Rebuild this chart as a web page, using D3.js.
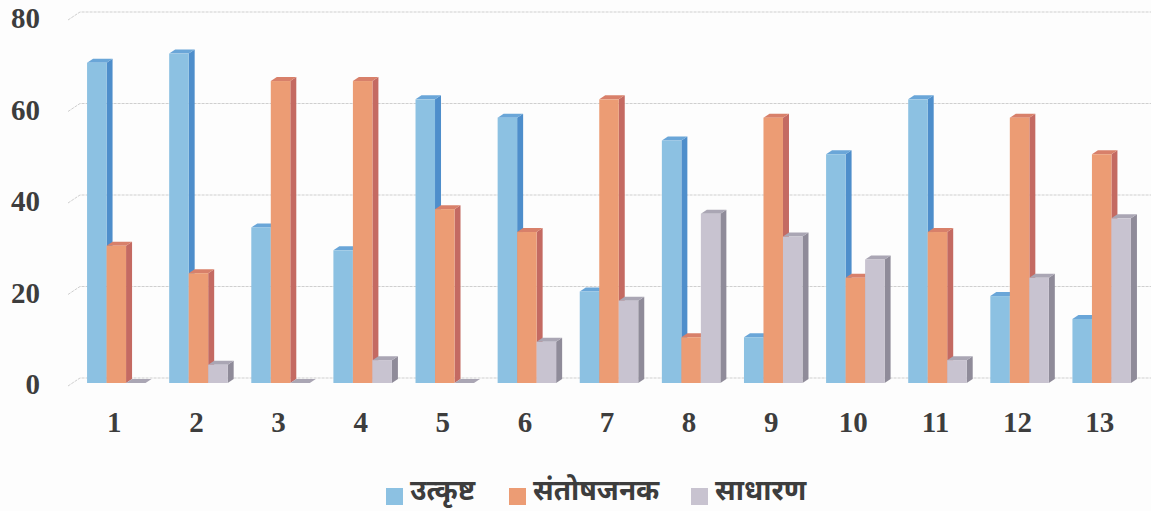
<!DOCTYPE html>
<html>
<head>
<meta charset="utf-8">
<script src="https://cdn.jsdelivr.net/npm/d3@7"></script>
<style>
  body { margin: 0; background: #fdfdfd; }
  svg { display: block; }
</style>
</head>
<body>
<script>
const w = 1151;
const h = 511;

// data
const categories = ["1","2","3","4","5","6","7","8","9","10","11","12","13"];
const seriesNames = ["उत्कृष्ट", "संतोषजनक", "साधारण"];
const utkrusht = [70, 72, 34, 29, 62, 58, 20, 53, 10, 50, 62, 19, 14];
const santoshjanak = [30, 24, 66, 66, 38, 33, 62, 10, 58, 23, 33, 58, 50];
const sadharan = [0, 4, 0, 5, 0, 9, 18, 37, 32, 27, 5, 23, 36];
const yTicks = [0, 20, 40, 60, 80];

const seriesValues = [utkrusht, santoshjanak, sadharan];
// front, side, top colours for each series
const colors = [
  {front: "#8cc1e2", side: "#4e8ecb", top: "#6aa6d8"},
  {front: "#ec9c74", side: "#c46a62", top: "#d8806a"},
  {front: "#c8c3d0", side: "#8f8b99", top: "#aaa6b4"}
];

const dx = 6, dy = 4;

const svg = d3.select("body")
  .append("svg")
  .attr("width", w)
  .attr("height", h);

const yScale = d3.scaleLinear()
  .domain([0, 80])
  .range([383, 17]);

const xScale = d3.scaleBand()
  .domain(categories)
  .range([46, 1172])
  .paddingInner(0.2875)
  .paddingOuter(0.5);

const xSub = d3.scaleBand()
  .domain([0, 1, 2])
  .range([0, xScale.bandwidth()]);

// back wall grid lines
yTicks.forEach(function(t) {
  const gy = yScale(t) - 5;
  svg.append("path")
    .attr("d", "M68," + (gy + 8) + " L80," + gy + " L" + w + "," + gy)
    .attr("fill", "none")
    .attr("stroke", "#cfcfcf")
    .attr("stroke-width", 1)
    .attr("stroke-dasharray", "3,1");
});

// y labels
svg.append("g")
  .selectAll("text")
  .data(yTicks)
  .enter()
  .append("text")
  .attr("x", 40)
  .attr("y", (d) => yScale(d) + 11)
  .attr("text-anchor", "end")
  .style("font-family", "'Liberation Serif', 'Times New Roman', serif")
  .style("font-weight", "bold")
  .style("font-size", "29px")
  .style("fill", "#3d3d3d")
  .text((d) => d);

// 3d bars
categories.forEach(function(c, i) {
  const g = svg.append("g");
  seriesValues.forEach(function(vals, s) {
    const x = xScale(c) + xSub(s);
    const bw = xSub.bandwidth();
    const y0 = yScale(0);
    const y1 = yScale(vals[i]);
    const col = colors[s];
    // side
    g.append("path")
      .attr("d", "M" + (x + bw) + "," + y0 + " L" + (x + bw + dx) + "," + (y0 - dy) +
        " L" + (x + bw + dx) + "," + (y1 - dy) + " L" + (x + bw) + "," + y1 + "Z")
      .style("fill", col.side);
    // top
    g.append("path")
      .attr("d", "M" + x + "," + y1 + " L" + (x + dx) + "," + (y1 - dy) +
        " L" + (x + bw + dx) + "," + (y1 - dy) + " L" + (x + bw) + "," + y1 + "Z")
      .style("fill", col.top);
    // front
    g.append("rect")
      .attr("x", x)
      .attr("y", y1)
      .attr("width", bw)
      .attr("height", y0 - y1)
      .style("fill", col.front);
  });
});

// x labels
svg.append("g")
  .selectAll("text")
  .data(categories)
  .enter()
  .append("text")
  .attr("x", (d) => xScale(d) + xScale.bandwidth() / 2 - 2)
  .attr("y", 432)
  .attr("text-anchor", "middle")
  .style("font-family", "'Liberation Serif', 'Times New Roman', serif")
  .style("font-weight", "bold")
  .style("font-size", "29px")
  .style("fill", "#3d3d3d")
  .text((d) => d);

// legend
const legendX = [386, 509, 691];
const legend = svg.append("g");
seriesNames.forEach(function(name, s) {
  legend.append("rect")
    .attr("x", legendX[s])
    .attr("y", 488)
    .attr("width", 17)
    .attr("height", 17)
    .style("fill", colors[s].front);
  legend.append("text")
    .attr("x", legendX[s] + 24)
    .attr("y", 500)
    .style("font-family", "'Noto Sans Devanagari', 'Lohit Devanagari', 'Noto Serif Devanagari', 'Noto Sans', sans-serif")
    .style("font-weight", "bold")
    .style("font-size", "28px")
    .style("fill", "#3d3d3d")
    .text(name);
});
</script>
</body>
</html>
